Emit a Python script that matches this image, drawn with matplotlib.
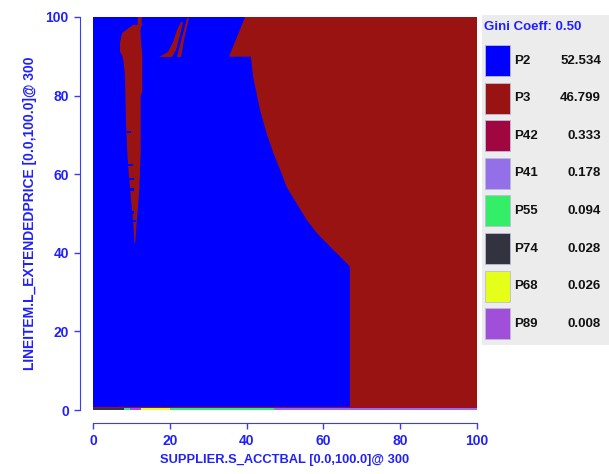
import matplotlib
matplotlib.use("Agg")
import matplotlib.pyplot as plt
from matplotlib.patches import Rectangle

# class shares shown in the legend
labels = ["P2", "P3", "P42", "P41", "P55", "P74", "P68", "P89"]
shares = [52.534, 46.799, 0.333, 0.178, 0.094, 0.028, 0.026, 0.008]
colors = ["#0000FF", "#9A1313", "#A0063F", "#9370E8", "#33EE66",
          "#33333F", "#E6FF1A", "#A050D8"]
gini = 0.50

# P3 main region boundary (x, y)
p3_main_x = [39.6, 100, 100, 66.9, 66.9, 65.2, 61.7, 58.3, 55.7, 53.0, 50.4,
             49.1, 47.0, 45.2, 43.5, 41.7, 41.1, 35.4]
p3_main_y = [100, 100, 0.7, 0.7, 36.5, 38.2, 41.6, 45.0, 48.3, 52.6, 56.8,
             60.2, 65.3, 70.4, 76.3, 84.8, 89.9, 89.9]

# P3 thin sliver on the left
p3_left_x = [11.64, 12.68, 12.68, 12.37, 12.5, 12.84, 12.84, 12.42, 12.42,
             12.06, 11.80, 11.38, 11.02, 10.76, 10.49, 9.97, 9.30, 8.93,
             8.59, 8.33, 7.89, 7.55, 7.03, 7.03, 7.55, 10.42, 11.64]
p3_left_y = [100, 100, 97.96, 96.7, 94.1, 90.1, 80.7, 80.2, 65.4, 56.0, 52.7,
             47.6, 42.5, 42.5, 47.6, 52.7, 60.3, 65.4, 73.0, 85.2, 89.1,
             90.3, 91.1, 93.4, 95.9, 98.0, 98.0]

# small P2 gaps inside the left sliver: (x0, x1, y)
gaps = [(8.9, 10.0, 70.5), (9.2, 10.4, 62.0), (9.4, 10.6, 58.5),
        (9.6, 10.8, 55.8), (9.8, 10.6, 50.0), (10.0, 11.2, 47.8)]

# P3 diagonal strands near the top
p3_s1_x = [17.19, 19.53, 20.83, 21.88, 22.92, 23.44, 22.66, 21.61, 20.57]
p3_s1_y = [89.8, 91.1, 93.6, 96.7, 98.7, 98.7, 95.4, 91.6, 89.8]
p3_s2_x = [21.88, 22.66, 23.70, 24.48, 25.0, 23.96, 22.92]
p3_s2_y = [89.8, 92.9, 96.7, 99.7, 99.7, 95.4, 89.8]

# bottom strip segments: (start, end, class)
strip = [(0, 8.2, "P74"), (8.2, 9.6, "P55"), (9.6, 11.0, "P89"),
         (11.0, 12.6, "P89"), (12.6, 20.0, "P68"), (20.0, 47.1, "P55"),
         (47.1, 100, "P41")]

cmap = dict(zip(labels, colors))
axis_blue = "#3A3AFF"

fig = plt.figure(figsize=(6.09, 4.74), dpi=100)
ax = fig.add_axes([93 / 609, 64 / 474, 384 / 609, 393 / 474])

ax.add_patch(Rectangle((0, 0.7), 100, 99.3, color=cmap["P2"], lw=0))
for xs, ys in [(p3_main_x, p3_main_y), (p3_left_x, p3_left_y),
               (p3_s1_x, p3_s1_y), (p3_s2_x, p3_s2_y)]:
    ax.fill(xs, ys, color=cmap["P3"], lw=0)
for x0, x1, y in gaps:
    ax.add_patch(Rectangle((x0, y), x1 - x0, 0.6, color=cmap["P2"], lw=0))
ax.add_patch(Rectangle((0, 0.45), 100, 0.25, color=cmap["P42"], lw=0))
for x0, x1, c in strip:
    ax.add_patch(Rectangle((x0, 0), x1 - x0, 0.45, color=cmap[c], lw=0))

ax.set_xlim(0, 100)
ax.set_ylim(0, 100)
ax.set_xticks([0, 20, 40, 60, 80, 100])
ax.set_yticks([0, 20, 40, 60, 80, 100])
for s in ["top", "right"]:
    ax.spines[s].set_visible(False)
for s in ["left", "bottom"]:
    ax.spines[s].set_position(("outward", 9.4))
    ax.spines[s].set_color(axis_blue)
    ax.spines[s].set_bounds(0, 100)
ax.tick_params(colors=axis_blue, length=4.5, width=1, labelsize=10)
for t in ax.get_xticklabels() + ax.get_yticklabels():
    t.set_fontweight("bold")
    t.set_fontfamily("Liberation Sans")
    t.set_color("#2020FF")
ax.set_xlabel("SUPPLIER.S_ACCTBAL [0.0,100.0]@ 300", color="#2020FF",
              fontweight="bold", fontsize=9.3, family="Liberation Sans",
              labelpad=4)
ax.set_ylabel("LINEITEM.L_EXTENDEDPRICE [0.0,100.0]@ 300", color="#2020FF",
              fontweight="bold", fontsize=10, family="Liberation Sans",
              labelpad=6)

# legend panel
lax = fig.add_axes([482 / 609, (474 - 345) / 474, 127 / 609, 330 / 474])
lax.set_xlim(0, 127)
lax.set_ylim(330, 0)
lax.axis("off")
lax.add_patch(Rectangle((0, 0), 127, 330, color="#ECECEC", lw=0))
lax.text(2, 12, f"Gini Coeff: {gini:.2f}", color="#2020FF", fontsize=9.5,
         fontweight="bold", family="Liberation Sans", va="center")
for i, (lab, val) in enumerate(zip(labels, shares)):
    y0 = 30 + i * 37.6
    lax.add_patch(Rectangle((3, y0), 25, 31, facecolor=cmap[lab],
                            edgecolor="#BBBBDD", lw=0.6))
    lax.text(32, y0 + 15.5, lab, fontsize=9.5, fontweight="bold",
             family="Liberation Sans", va="center", color="#111111")
    lax.text(119, y0 + 15.5, f"{val:.3f}", fontsize=9.5, fontweight="bold",
             family="Liberation Sans", va="center", ha="right",
             color="#111111")

fig.savefig("out.png", dpi=100)
